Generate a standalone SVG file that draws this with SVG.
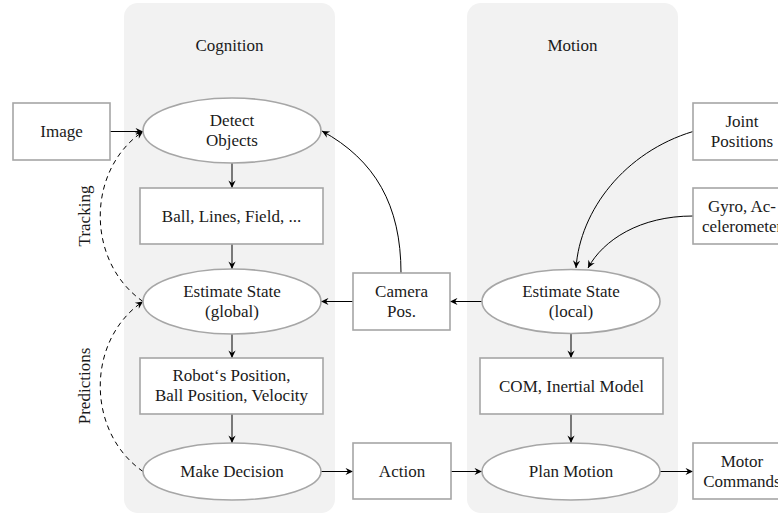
<svg xmlns="http://www.w3.org/2000/svg" width="778" height="514" viewBox="0 0 778 514">
  <defs>
    <style>
      .panel { fill: #f2f2f2; }
      .box { fill: #ffffff; stroke: #a6a6a6; stroke-width: 1.6; }
      .lbl { font-family: 'Liberation Serif', Tinos, 'Times New Roman', 'Nimbus Roman', 'DejaVu Serif', serif; font-size: 17px; fill: #1a1a1a; text-anchor: middle; }
      .edge { fill: none; stroke: #000000; stroke-width: 1; marker-end: url(#tip); }
      .dash { stroke-dasharray: 5 4; }
    </style>
    <marker id="tip" viewBox="-8 -4 9 8" refX="0" refY="0" markerWidth="9" markerHeight="8" markerUnits="userSpaceOnUse" orient="auto">
      <path d="M0,0 L-7.5,-3.6 L-5,0 L-7.5,3.6 Z" fill="#000000"/>
    </marker>
  </defs>

  <!-- swimlane panels -->
  <g id="panel-cognition">
    <rect class="panel" x="124" y="3" width="211" height="510" rx="14"/>
    <text class="lbl" x="229.5" y="51">Cognition</text>
  </g>
  <g id="panel-motion">
    <rect class="panel" x="467" y="3" width="211" height="510" rx="14"/>
    <text class="lbl" x="572.5" y="51">Motion</text>
  </g>

  <!-- connectors -->
  <g id="connectors">
    <path class="edge" d="M110,131.5 L143,131.5"/>
    <path class="edge" d="M232,163 L232,188"/>
    <path class="edge" d="M232,244 L232,269"/>
    <path class="edge" d="M232,334 L232,358"/>
    <path class="edge" d="M232,414 L232,443"/>
    <path class="edge" d="M321,471.5 L353,471.5"/>
    <path class="edge" d="M451,471.5 L482,471.5"/>
    <path class="edge" d="M660,471.5 L693,471.5"/>
    <path class="edge" d="M571,414 L571,443"/>
    <path class="edge" d="M571,333.5 L571,358"/>
    <path class="edge" d="M483,301.5 L450,301.5"/>
    <path class="edge" d="M353,301.5 L321,301.5"/>
    <path class="edge" d="M401,273 C401,205 375,160 322,131"/>
    <path class="edge" d="M693,131.5 C625,152 580,210 576,268"/>
    <path class="edge" d="M693,216 C640,216 603,240 588,268"/>
    <path class="edge dash" d="M143,301.5 C86,262 86,170 143,131.5"/>
    <path class="edge dash" d="M143,471.5 C86,432 86,340 143,301.5"/>
    <text class="lbl" transform="translate(90,216) rotate(-90)">Tracking</text>
    <text class="lbl" transform="translate(90,386) rotate(-90)">Predictions</text>
  </g>

  <!-- nodes -->
  <g id="image">
    <rect class="box" x="13" y="103" width="97" height="57"/>
    <text class="lbl" x="61.5" y="137">Image</text>
  </g>
  <g id="detect-objects">
    <ellipse class="box" cx="232" cy="130.5" rx="89" ry="32.5"/>
    <text class="lbl" x="232" y="126">Detect</text>
    <text class="lbl" x="232" y="146">Objects</text>
  </g>
  <g id="percepts">
    <rect class="box" x="140" y="188" width="183" height="56"/>
    <text class="lbl" x="231.5" y="222">Ball, Lines, Field, ...</text>
  </g>
  <g id="estimate-global">
    <ellipse class="box" cx="232" cy="301.5" rx="89" ry="32.5"/>
    <text class="lbl" x="232" y="297">Estimate State</text>
    <text class="lbl" x="232" y="317">(global)</text>
  </g>
  <g id="world-model">
    <rect class="box" x="140" y="358" width="183" height="56"/>
    <text class="lbl" x="231.5" y="381">Robot‘s Position,</text>
    <text class="lbl" x="231.5" y="401">Ball Position, Velocity</text>
  </g>
  <g id="make-decision">
    <ellipse class="box" cx="232" cy="471.5" rx="89" ry="28.5"/>
    <text class="lbl" x="232" y="477">Make Decision</text>
  </g>
  <g id="action">
    <rect class="box" x="353" y="443" width="98" height="56"/>
    <text class="lbl" x="402" y="477">Action</text>
  </g>
  <g id="camera-pos">
    <rect class="box" x="353" y="273" width="97" height="57"/>
    <text class="lbl" x="401.5" y="297">Camera</text>
    <text class="lbl" x="401.5" y="317">Pos.</text>
  </g>
  <g id="estimate-local">
    <ellipse class="box" cx="571" cy="301.5" rx="89" ry="32"/>
    <text class="lbl" x="571" y="297">Estimate State</text>
    <text class="lbl" x="571" y="317">(local)</text>
  </g>
  <g id="body-model">
    <rect class="box" x="480" y="358" width="183" height="56"/>
    <text class="lbl" x="571.5" y="392">COM, Inertial Model</text>
  </g>
  <g id="plan-motion">
    <ellipse class="box" cx="571" cy="471.5" rx="89" ry="28.5"/>
    <text class="lbl" x="571" y="477">Plan Motion</text>
  </g>
  <g id="joint-positions">
    <rect class="box" x="693" y="103" width="98" height="57"/>
    <text class="lbl" x="742" y="127">Joint</text>
    <text class="lbl" x="742" y="147">Positions</text>
  </g>
  <g id="imu">
    <rect class="box" x="693" y="188" width="98" height="56"/>
    <text class="lbl" x="742" y="211.5">Gyro, Ac-</text>
    <text class="lbl" x="742" y="231.5">celerometer</text>
  </g>
  <g id="motor-commands">
    <rect class="box" x="693" y="443" width="98" height="56"/>
    <text class="lbl" x="742" y="467">Motor</text>
    <text class="lbl" x="742" y="487">Commands</text>
  </g>
</svg>
